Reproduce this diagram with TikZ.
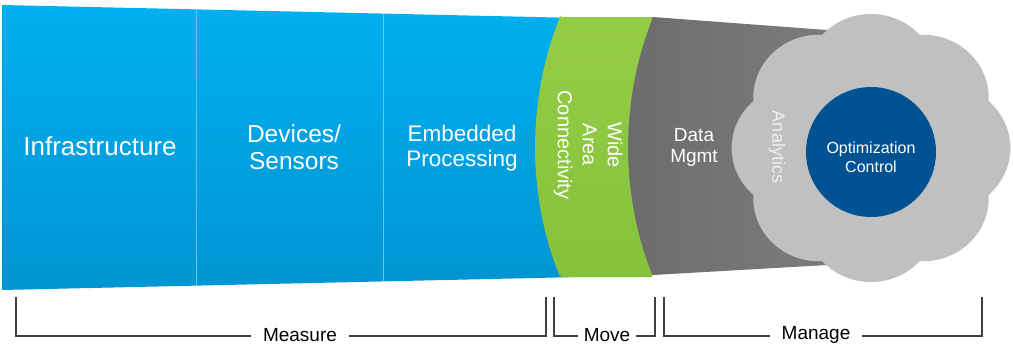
\documentclass[tikz,border=0pt]{standalone}
\usepackage{fontspec}
\setmainfont{Liberation Sans}
\definecolor{blueTop}{RGB}{0,176,240}
\definecolor{blueBot}{RGB}{0,148,210}
\definecolor{divider}{RGB}{110,195,235}
\definecolor{greenTop}{RGB}{148,204,70}
\definecolor{greenBot}{RGB}{135,194,60}
\definecolor{greyL}{RGB}{106,106,106}
\definecolor{greyR}{RGB}{128,128,128}
\definecolor{cloudgrey}{RGB}{192,192,192}
\definecolor{navy}{RGB}{0,82,147}
\definecolor{bracket}{RGB}{64,64,64}
\definecolor{softwhite}{RGB}{240,240,240}
\tikzset{
  lbl/.style={text=white, align=center, inner sep=0pt},
  phase/.style={text=black, fill=white, inner ysep=1pt, font=\fontsize{19}{22}\selectfont},
  bracketline/.style={draw=bracket, line width=2pt}
}
\begin{document}
\begin{tikzpicture}[x=1pt, y=-1pt]
\useasboundingbox (0,0) rectangle (1013,348);

% blue funnel section
\shade[top color=blueTop, bottom color=blueBot]
  (2,5) -- (575,17.9) -- (575,277.1) -- (2,290) -- cycle;
\draw[divider, line width=1pt] (196,9.4) -- (196,285.6);
\draw[divider, line width=1pt] (383,13.6) -- (383,281.4);

% grey data section (starts behind the green band, runs under the cloud)
\shade[left color=greyL, right color=greyR]
  (600,17) -- (653,17) -- (880,34) -- (880,262) -- (653,275) -- (600,275) -- cycle;

% green curved band
\shade[top color=greenTop, bottom color=greenBot, rounded corners=2pt]
  (560,17) -- (653,17)
  .. controls (620,100) and (620,195) .. (653,277)
  -- (560,277)
  .. controls (527,195) and (527,100) .. (560,17) -- cycle;

% analytics cloud
\begin{scope}[shift={(871,148)}, xscale=1.04]
  \fill[cloudgrey] (0,0) circle[radius=100];
  \foreach \a in {0,45,...,315}
    \fill[cloudgrey] (\a:71) circle[radius=63];
\end{scope}
\node[circle, fill=navy, minimum size=130pt, inner sep=0pt] (core) at (871,152) {};

% labels
\node[lbl, font=\fontsize{26}{30}\selectfont] (infra) at (100,146) {Infrastructure};
\node[lbl, font=\fontsize{24.5}{27}\selectfont] (devices) at (294,147) {Devices/\\Sensors};
\node[lbl, font=\fontsize{22.5}{24.5}\selectfont] (embedded) at (462,148) {Embedded\\Processing};
\node[lbl, rotate=-90, font=\fontsize{20}{25}\selectfont] (wan) at (588,145) {Wide\\Area\\Connectivity};
\node[lbl, font=\fontsize{19}{21}\selectfont] (data) at (694,147) {Data\\Mgmt};
\node[lbl, text=softwhite, rotate=-90, font=\fontsize{18}{20}\selectfont] (analytics) at (777,147) {Analytics};
\node[lbl, font=\fontsize{16}{19}\selectfont] (optctl) at (871,157) {Optimization\\Control};

% phase brackets
\coordinate (mL) at (16,297);  \coordinate (mR) at (546,297);
\coordinate (vL) at (554,297); \coordinate (vR) at (655,297);
\coordinate (gL) at (664,297); \coordinate (gR) at (982,297);
\draw[bracketline] (mL) |- (300,336) -| (mR);
\draw[bracketline] (vL) |- (607,336) -| (vR);
\draw[bracketline] (gL) |- (816,336) -| (gR);
\node[phase, inner xsep=12pt] (measure) at (300,335) {Measure};
\node[phase, inner xsep=6pt] (move) at (607,335) {Move};
\node[phase, inner xsep=12pt] (manage) at (816,335) {Manage};
\end{tikzpicture}
\end{document}
